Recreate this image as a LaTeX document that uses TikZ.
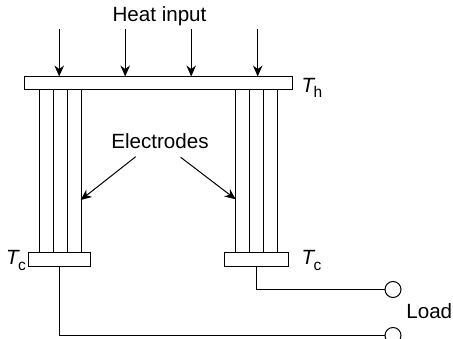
\documentclass[tikz,border=0pt]{standalone}
\usepackage{fontspec}
\setmainfont{Liberation Sans}
\usepackage{tikz}
\usetikzlibrary{arrows.meta,positioning,calc}

\newcommand{\tempsub}[1]{\textit{T}\kern-2pt\raisebox{-5.5pt}{\fontsize{15.5}{18}\selectfont #1}}

\tikzset{
  plate/.style={draw,fill=white,line width=1pt,inner sep=0pt},
  wire/.style={line width=1pt},
  heatarrow/.style={wire,-{Stealth[length=11pt,width=9.5pt]}},
  terminal/.style={draw,circle,fill=white,line width=1pt,minimum size=16pt,inner sep=0pt},
  label/.style={inner sep=0pt,anchor=base},
  temp/.style={inner sep=0pt,anchor=base west},
}

\begin{document}
\begin{tikzpicture}[x=1pt,y=1pt,font=\fontsize{20.6}{24}\selectfont]
    \clip (0,0) rectangle (453,-339);
    \node[plate,minimum width=268pt,minimum height=13pt] (hot) at (158.2,-83) {};
    \node[plate,minimum width=62.5pt,minimum height=14pt] (coldL) at (59.7,-259.5) {};
    \node[plate,minimum width=63.5pt,minimum height=14pt] (coldR) at (256.7,-259.5) {};
    \node[terminal] (termA) at (393,-289.5) {};
    \node[terminal] (termB) at (393,-335.5) {};
    \node[label] (heat) at (159.5,-21.7) {Heat input};
    \node[label] (elec) at (160,-148.5) {Electrodes};
    \node[label] (load) at (429.3,-319) {Load};
    \node[temp] (Th) at (301.5,-92.5) {\tempsub{h}};
    \node[temp] (TcL) at (6,-265) {\tempsub{c}};
    \node[temp] (TcR) at (301.5,-265) {\tempsub{c}};
    \coordinate (tailL) at (135.7,-156.7);
    \coordinate (tailR) at (180.7,-157.3);
    \coordinate (headL) at (80.7,-200);
    \coordinate (headR) at (235.7,-199.3);
    % legs
    \foreach \x in {39.2,53.2,67.2,81.2,235.7,249.2,263.2,277.2} {
      \draw[wire] (\x,-89.5) -- (\x,-252.5);
    }
    % heat arrows
    \foreach \x in {59.2,125.2,191.2,257.7} {
      \draw[heatarrow] (\x,-29) -- (\x,-76.5);
    }
    \draw[heatarrow] (tailL) -- (headL);
    \draw[heatarrow] (tailR) -- (headR);
    \draw[wire] (coldR.south) |- (termA.west);
    \draw[wire] (coldL.south) |- (termB.west);
  \end{tikzpicture}
\end{document}
